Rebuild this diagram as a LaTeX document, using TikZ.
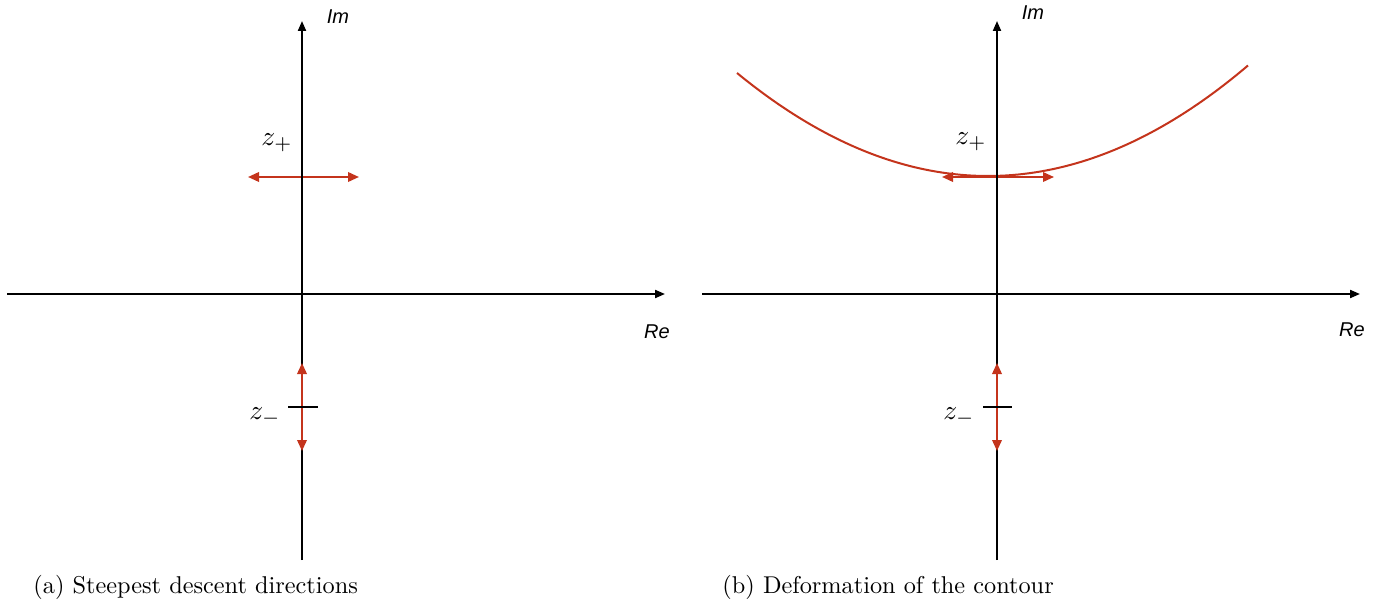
\documentclass[tikz,border=0pt]{standalone}
\usepackage{fontspec}
\newfontfamily\labfont{Liberation Sans}
\usetikzlibrary{arrows.meta}
\definecolor{cred}{RGB}{196,52,28}
\begin{document}
\begin{tikzpicture}[x=1pt,y=-1pt,
  axis/.style={line width=2pt, -{Triangle[length=10pt,width=8pt]}},
  redarr/.style={draw=cred, line width=2pt, {Triangle[length=11pt,width=9.5pt]}-{Triangle[length=11pt,width=9.5pt]}},
  redcurve/.style={draw=cred, line width=2pt},
  ticksty/.style={line width=2pt},
  axlabel/.style={font=\labfont\itshape\fontsize{20}{24}\selectfont, inner sep=0pt},
  zlab/.style={scale=2.75, inner sep=0pt},
  capsty/.style={scale=2.43, anchor=base west, inner sep=0pt}]
\useasboundingbox (0,0) rectangle (1391,607);

% ---------- panel (a) ----------
\coordinate (aL) at (7,294);
\coordinate (aR) at (665,294);
\coordinate (aB) at (302,560);
\coordinate (aT) at (302,21);
\coordinate (ah1) at (248,177);
\coordinate (ah2) at (359,177);
\coordinate (av1) at (302,363);
\coordinate (av2) at (302,451);
\coordinate (at1) at (288,407);
\coordinate (at2) at (318,407);
\draw[redarr] (ah1) -- (ah2);
\draw[axis] (aL) -- (aR);
\draw[axis] (aB) -- (aT);
\draw[redarr] (av1) -- (av2);
\draw[ticksty] (at1) -- (at2);
\node[axlabel] (aIm) at (338,17) {Im};
\node[axlabel] (aRe) at (657,332) {Re};
\node[zlab] (azp) at (277,143) {$z_+$};
\node[zlab] (azm) at (265,417) {$z_-$};
\node[capsty] (acap) at (33,593) {(a) Steepest descent directions};

% ---------- panel (b) ----------
\coordinate (bL) at (702,294);
\coordinate (bR) at (1360,294);
\coordinate (bB) at (997,560);
\coordinate (bT) at (997,21);
\coordinate (bh1) at (942,177);
\coordinate (bh2) at (1054,177);
\coordinate (bv1) at (997,363);
\coordinate (bv2) at (997,451);
\coordinate (bt1) at (983,407);
\coordinate (bt2) at (1012,407);
\draw[redcurve] plot[domain=737:1248, samples=90] (\x, {176-16.35*((\x-988)/100)^2});
\draw[redarr] (bh1) -- (bh2);
\draw[axis] (bL) -- (bR);
\draw[axis] (bB) -- (bT);
\draw[redarr] (bv1) -- (bv2);
\draw[ticksty] (bt1) -- (bt2);
\node[axlabel] (bIm) at (1033,13) {Im};
\node[axlabel] (bRe) at (1352,330) {Re};
\node[zlab] (bzp) at (971,142) {$z_+$};
\node[zlab] (bzm) at (959,417) {$z_-$};
\node[capsty] (bcap) at (722,593) {(b) Deformation of the contour};
\end{tikzpicture}
\end{document}
